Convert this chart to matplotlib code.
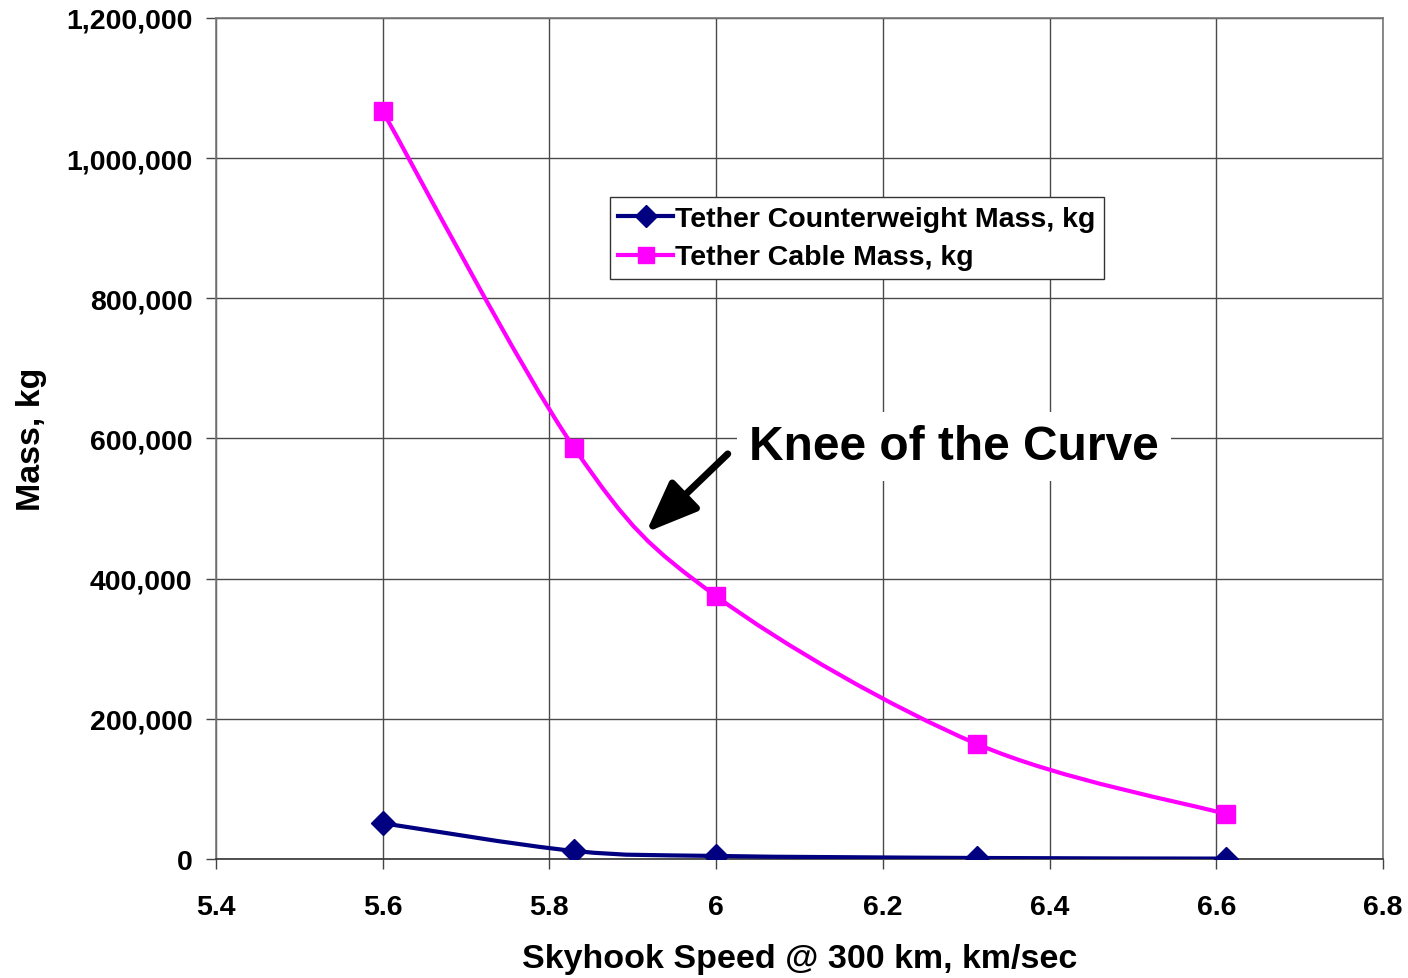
import matplotlib
matplotlib.use('Agg')
import matplotlib.pyplot as plt
import numpy as np
from matplotlib.path import Path
from matplotlib.patches import PathPatch
from matplotlib.lines import Line2D
from matplotlib.ticker import FuncFormatter

# Data
speed = [5.6, 5.83, 6.0, 6.313, 6.612]
counterweight_mass = [51000, 11400, 4300, 1400, 500]
cable_mass = [1067000, 586000, 375000, 164000, 64000]

x_ticks = [5.4, 5.6, 5.8, 6.0, 6.2, 6.4, 6.6, 6.8]
y_ticks = [0, 200000, 400000, 600000, 800000, 1000000, 1200000]

plt.rcParams['font.family'] = ['Liberation Sans', 'DejaVu Sans']
plt.rcParams['font.weight'] = 'bold'


def smooth_path(xs, ys):
    """Excel style smoothed line: Catmull-Rom segments as cubic Beziers"""
    pts = np.column_stack([xs, ys]).astype(float)
    n = len(pts)
    verts = [pts[0]]
    codes = [Path.MOVETO]
    for i in range(n - 1):
        p0 = pts[i - 1] if i > 0 else pts[i]
        p1 = pts[i]
        p2 = pts[i + 1]
        p3 = pts[i + 2] if i + 2 < n else pts[i + 1]
        c1 = p1 + (p2 - p0) / 6.0
        c2 = p2 - (p3 - p1) / 6.0
        verts += [c1, c2, p2]
        codes += [Path.CURVE4] * 3
    return Path(verts, codes)


fig = plt.figure(figsize=(14.08, 9.79), dpi=100)
ax = fig.add_axes([0.1534, 0.1216, 0.8288, 0.859])

blue = '#000080'
magenta = '#FF00FF'
lw = 3.0

for ys, col, mk, ms in [(counterweight_mass, blue, 'D', 12),
                        (cable_mass, magenta, 's', 13.5)]:
    ax.add_patch(PathPatch(smooth_path(speed, ys), fill=False,
                           edgecolor=col, linewidth=lw, zorder=3,
                           capstyle='round'))
    ax.plot(speed, ys, linestyle='none', marker=mk, markersize=ms,
            color=col, zorder=4)

ax.set_xlim(5.4, 6.8)
ax.set_ylim(0, 1200000)
ax.set_xticks(x_ticks)
ax.set_yticks(y_ticks)
ax.xaxis.set_major_formatter(FuncFormatter(lambda v, p: f'{v:g}'))
ax.yaxis.set_major_formatter(FuncFormatter(lambda v, p: f'{int(v):,}'))
ax.tick_params(axis='both', direction='out', length=7, width=1,
               color='#444444', labelsize=20.5)
ax.tick_params(axis='x', pad=18)
ax.tick_params(axis='y', pad=10)

ax.grid(True, color='#4a4a4a', linewidth=1)
ax.set_axisbelow(True)
for side in ['top', 'right', 'left']:
    ax.spines[side].set_color('#777777')
    ax.spines[side].set_linewidth(1.2)
ax.spines['bottom'].set_color('#333333')
ax.spines['bottom'].set_linewidth(1.2)

ax.set_xlabel('Skyhook Speed @ 300 km, km/sec', fontsize=24.5,
              fontweight='bold', labelpad=17)
ax.set_ylabel('Mass, kg', fontsize=24.5, fontweight='bold', labelpad=14)

handles = [Line2D([], [], color=blue, marker='D', markersize=11, linewidth=lw),
           Line2D([], [], color=magenta, marker='s', markersize=12, linewidth=lw)]
leg = ax.legend(handles, ['Tether Counterweight Mass, kg', 'Tether Cable Mass, kg'],
                loc='upper left', bbox_to_anchor=(0.3376, 0.787),
                fontsize=20.5, frameon=True, fancybox=False, framealpha=1,
                edgecolor='#333333', handlelength=1.9, handletextpad=0.1,
                borderpad=0.3, labelspacing=0.45, borderaxespad=0)
leg.get_frame().set_linewidth(1.0)

ax.text(6.04, 588000, 'Knee of the Curve', fontsize=34.5, fontweight='bold',
        va='center', ha='left', zorder=6,
        bbox=dict(boxstyle='square,pad=0.25', facecolor='white', edgecolor='none'))
ax.annotate('', xy=(5.916, 466000), xytext=(6.014, 578000), zorder=6,
            arrowprops=dict(arrowstyle='-|>,head_length=1.5,head_width=0.6',
                            mutation_scale=21, color='black', linewidth=5,
                            shrinkA=0, shrinkB=0))

fig.savefig('out.png', dpi=100)
